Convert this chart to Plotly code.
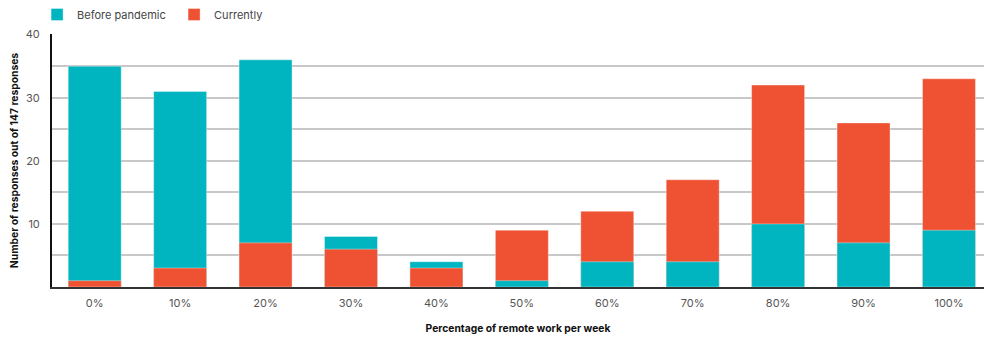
import plotly.graph_objects as go

categories = ["0%", "10%", "20%", "30%", "40%", "50%", "60%", "70%", "80%", "90%", "100%"]
before = [35, 31, 36, 8, 4, 1, 4, 4, 10, 7, 9]
currently = [1, 3, 7, 6, 3, 9, 12, 17, 32, 26, 33]

TEAL = "#00B5C0"
ORANGE = "#EF5133"

# overlay: larger bar drawn first, smaller bar in front
before_back = [b if b >= c else None for b, c in zip(before, currently)]
curr_back = [c if c > b else None for b, c in zip(before, currently)]
before_front = [b if b < c else None for b, c in zip(before, currently)]
curr_front = [c if c <= b else None for b, c in zip(before, currently)]

fig = go.Figure()
common = dict(width=0.62, marker_line=dict(width=0.6, color="rgba(255,255,255,0.6)"))
fig.add_trace(go.Bar(x=categories, y=before_back, name="Before pandemic", legendgroup="b",
                     marker_color=TEAL, showlegend=True, **common))
fig.add_trace(go.Bar(x=categories, y=curr_back, name="Currently", legendgroup="c",
                     marker_color=ORANGE, showlegend=True, **common))
fig.add_trace(go.Bar(x=categories, y=before_front, name="Before pandemic", legendgroup="b",
                     marker_color=TEAL, showlegend=False, **common))
fig.add_trace(go.Bar(x=categories, y=curr_front, name="Currently", legendgroup="c",
                     marker_color=ORANGE, showlegend=False, **common))

fig.update_layout(
    barmode="overlay",
    width=984, height=341,
    margin=dict(l=52, r=0, t=30, b=54),
    plot_bgcolor="white", paper_bgcolor="white",
    font=dict(family="Inter, sans-serif", size=11, color="#555"),
    legend=dict(orientation="h", x=-0.016, xanchor="left", y=1.02, yanchor="bottom",
                bgcolor="rgba(0,0,0,0)",
                font=dict(size=11, color="#444"), traceorder="normal", entrywidth=92),
    xaxis=dict(range=[-0.5, 10.41], showline=True, linecolor="#333", linewidth=2,
               ticks="", showgrid=False, ticklabelstandoff=5,
               title=dict(text="<b>Percentage of remote work per week</b>",
                          font=dict(size=10.3, color="#111"), standoff=16)),
    yaxis=dict(range=[0, 40.1], showline=True, linecolor="#111", linewidth=2,
               tickvals=[5, 10, 15, 20, 25, 30, 35, 40],
               ticktext=["", "10", "", "20", "", "30", "", "40"],
               showgrid=True, gridcolor="#c8c8c8", gridwidth=1.5, zeroline=False,
               ticks="", ticklabelstandoff=8,
               title=dict(text="<b>Number of responses out of 147 responses</b>",
                          font=dict(size=10.3, color="#111"), standoff=5)),
)

fig.write_html("out.html")
